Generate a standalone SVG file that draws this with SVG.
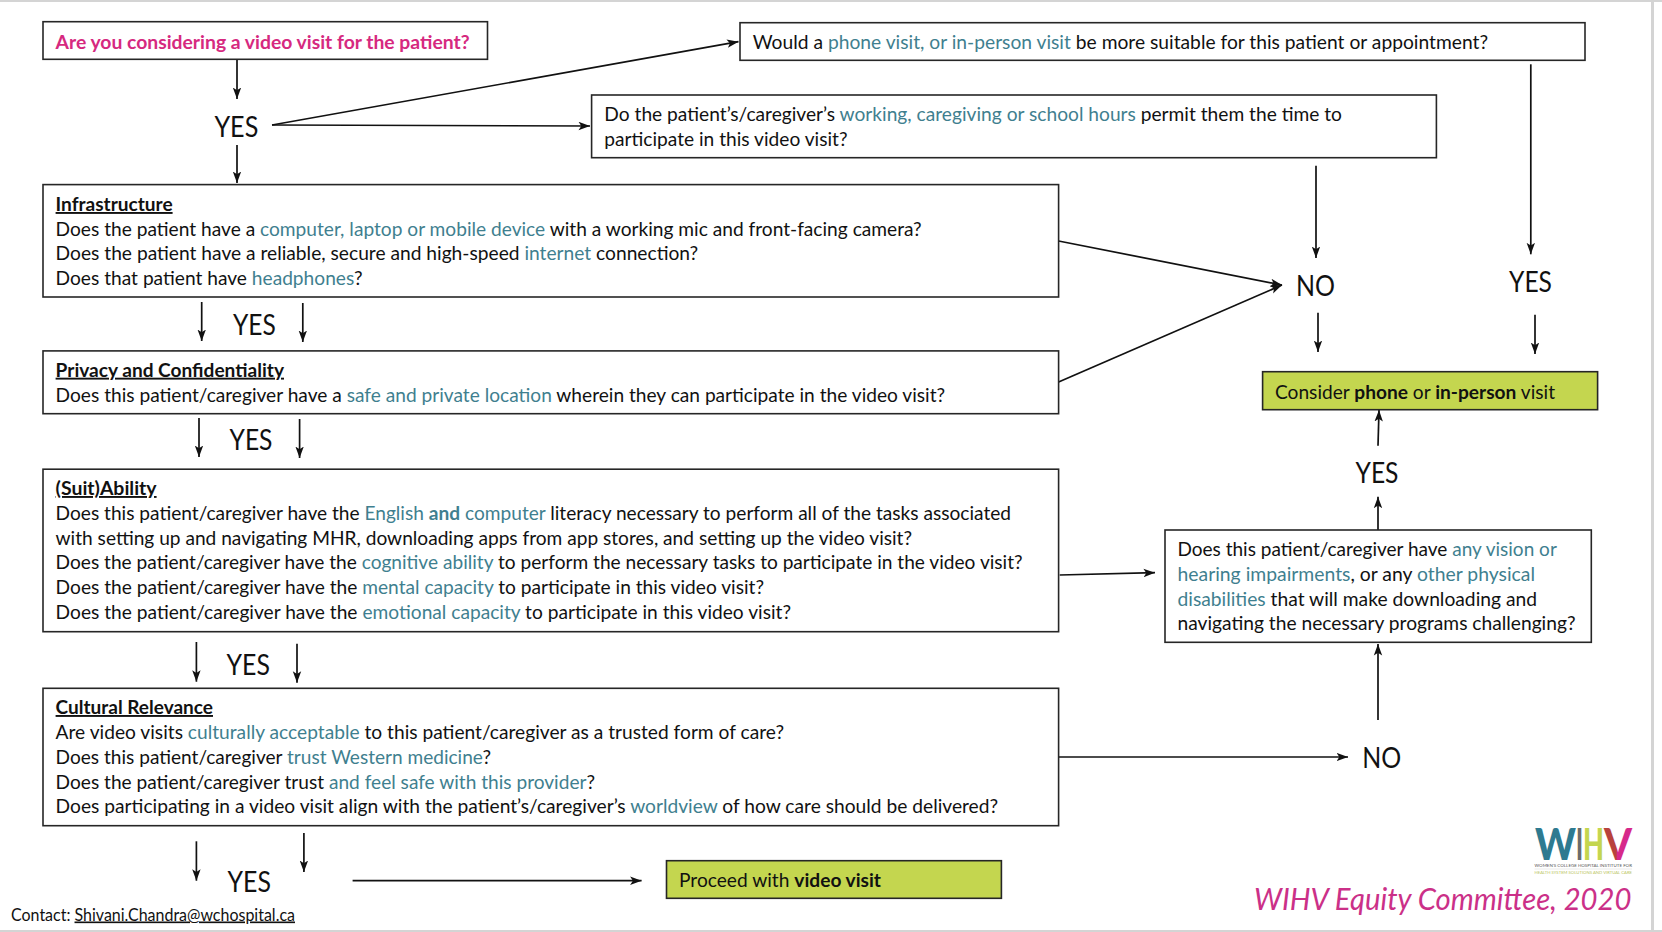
<svg xmlns="http://www.w3.org/2000/svg" width="1662" height="932" viewBox="0 0 1662 932">
<style>
text{font-family:"Lato","Open Sans","Liberation Sans",sans-serif;fill:#111}
.b{fill:#fff;stroke:#262626;stroke-width:1.6}
.g{fill:#c4d64f;stroke:#262626;stroke-width:1.6}
.t{font-size:19px}
.h{font-size:19px;font-weight:700;text-decoration:underline}
.k{fill:#3f7f8f}
.s{font-weight:700}
.l{font-size:28px}
.c{fill:none;stroke:#111;stroke-width:1.7;marker-end:url(#ah)}
.w{font-size:43px;font-weight:900}
</style>
<defs>
<marker id="ah" markerUnits="userSpaceOnUse" markerWidth="14" markerHeight="12" refX="11.5" refY="5" orient="auto"><path d="M0 0.8 L11.5 5 L0 9.2 L2.8 5 Z" fill="#111"/></marker>
<linearGradient id="vg" gradientUnits="userSpaceOnUse" x1="1604" y1="0" x2="1632" y2="0"><stop offset="0" stop-color="#b8423c"/><stop offset="0.44" stop-color="#b8423c"/><stop offset="0.46" stop-color="#d6298a"/><stop offset="1" stop-color="#d6298a"/></linearGradient>
</defs>
<rect id="page" x="0" y="0" width="1662" height="932" fill="#fff"/>
<g id="page-edge" fill="#d4d4d4"><rect x="0" y="0" width="1662" height="2"/><rect x="1651" y="0" width="3" height="932"/><rect x="0" y="930" width="1662" height="2"/></g>

<g id="connectors">
<path class="c" d="M237 60V99"/>
<path class="c" d="M237 145V183"/>
<path class="c" d="M272 125L738.5 41.7"/>
<path class="c" d="M272 125L590 126"/>
<path class="c" d="M201.7 302V341"/>
<path class="c" d="M302.8 303V342"/>
<path class="c" d="M199 418V457"/>
<path class="c" d="M299.6 419V458"/>
<path class="c" d="M196.4 642V681.7"/>
<path class="c" d="M297 643.7V682.7"/>
<path class="c" d="M196.4 841.3V880.7"/>
<path class="c" d="M303.9 833V872"/>
<path class="c" d="M352.6 880.7H641.6"/>
<path class="c" d="M1316 165.7V258"/>
<path class="c" d="M1530.8 64.3V254.3"/>
<path class="c" d="M1058.6 241L1282 285"/>
<path class="c" d="M1058.6 382L1282 285"/>
<path class="c" d="M1318 312.7V352"/>
<path class="c" d="M1535 314.7V354"/>
<path class="c" d="M1378 445.7L1379 410"/>
<path class="c" d="M1378 530V496.7"/>
<path class="c" d="M1378 720V644"/>
<path class="c" d="M1059.7 575L1155 572.7"/>
<path class="c" d="M1058.6 757H1348"/>
</g>

<g id="start"><rect class="b" x="43" y="21.7" width="444.5" height="37.6"/>
<text class="t s" x="55.6" y="48.5" textLength="414" lengthAdjust="spacingAndGlyphs" style="fill:#d6297f">Are you considering a video visit for the patient?</text></g>

<g id="alt-visit"><rect class="b" x="740" y="22.7" width="845" height="37.6"/>
<text class="t" x="752.8" y="49" textLength="735.2" lengthAdjust="spacingAndGlyphs">Would a <tspan class="k">phone visit, or in-person visit</tspan> be more suitable for this patient or appointment?</text></g>

<g id="hours"><rect class="b" x="591.6" y="95" width="844.8" height="62.7"/>
<text class="t" x="604.3" y="121" textLength="737.7" lengthAdjust="spacingAndGlyphs">Do the patient’s/caregiver’s <tspan class="k">working, caregiving or school hours</tspan> permit them the time to</text>
<text class="t" x="604.3" y="146" textLength="243.2" lengthAdjust="spacingAndGlyphs">participate in this video visit?</text></g>

<g id="infrastructure"><rect class="b" x="43" y="184.6" width="1015.6" height="112.4"/>
<text class="h" x="55.6" y="211" textLength="117" lengthAdjust="spacingAndGlyphs">Infrastructure</text>
<text class="t" x="55.6" y="236" textLength="866" lengthAdjust="spacingAndGlyphs">Does the patient have a <tspan class="k">computer, laptop or mobile device</tspan> with a working mic and front-facing camera?</text>
<text class="t" x="55.6" y="260" textLength="642.6" lengthAdjust="spacingAndGlyphs">Does the patient have a reliable, secure and high-speed <tspan class="k">internet</tspan> connection?</text>
<text class="t" x="55.6" y="285" textLength="307" lengthAdjust="spacingAndGlyphs">Does that patient have <tspan class="k">headphones</tspan>?</text></g>

<g id="privacy"><rect class="b" x="43" y="350.9" width="1015.6" height="62.8"/>
<text class="h" x="55.6" y="376.7" textLength="228.4" lengthAdjust="spacingAndGlyphs">Privacy and Confidentiality</text>
<text class="t" x="55.6" y="402" textLength="889.5" lengthAdjust="spacingAndGlyphs">Does this patient/caregiver have a <tspan class="k">safe and private location</tspan> wherein they can participate in the video visit?</text></g>

<g id="suitability"><rect class="b" x="43" y="469.2" width="1015.6" height="162.5"/>
<text class="h" x="55.6" y="495" textLength="101" lengthAdjust="spacingAndGlyphs">(Suit)Ability</text>
<text class="t" x="55.6" y="520" textLength="955.4" lengthAdjust="spacingAndGlyphs">Does this patient/caregiver have the <tspan class="k">English <tspan class="s">and</tspan> computer</tspan> literacy necessary to perform all of the tasks associated</text>
<text class="t" x="55.6" y="545" textLength="856.4" lengthAdjust="spacingAndGlyphs">with setting up and navigating MHR, downloading apps from app stores, and setting up the video visit?</text>
<text class="t" x="55.6" y="569" textLength="967" lengthAdjust="spacingAndGlyphs">Does the patient/caregiver have the <tspan class="k">cognitive ability</tspan> to perform the necessary tasks to participate in the video visit?</text>
<text class="t" x="55.6" y="594" textLength="708.4" lengthAdjust="spacingAndGlyphs">Does the patient/caregiver have the <tspan class="k">mental capacity</tspan> to participate in this video visit?</text>
<text class="t" x="55.6" y="619" textLength="735.4" lengthAdjust="spacingAndGlyphs">Does the patient/caregiver have the <tspan class="k">emotional capacity</tspan> to participate in this video visit?</text></g>

<g id="cultural"><rect class="b" x="43" y="688.3" width="1015.6" height="137.4"/>
<text class="h" x="55.6" y="714" textLength="157.4" lengthAdjust="spacingAndGlyphs">Cultural Relevance</text>
<text class="t" x="55.6" y="739" textLength="728.4" lengthAdjust="spacingAndGlyphs">Are video visits <tspan class="k">culturally acceptable</tspan> to this patient/caregiver as a trusted form of care?</text>
<text class="t" x="55.6" y="764" textLength="435.4" lengthAdjust="spacingAndGlyphs">Does this patient/caregiver <tspan class="k">trust Western medicine</tspan>?</text>
<text class="t" x="55.6" y="788.5" textLength="539.4" lengthAdjust="spacingAndGlyphs">Does the patient/caregiver trust <tspan class="k">and feel safe with this provider</tspan>?</text>
<text class="t" x="55.6" y="813" textLength="942.5" lengthAdjust="spacingAndGlyphs">Does participating in a video visit align with the patient’s/caregiver’s <tspan class="k">worldview</tspan> of how care should be delivered?</text></g>

<g id="proceed"><rect class="g" x="666.5" y="860.7" width="334.9" height="37.6"/>
<text class="t" x="679" y="886.7" textLength="202" lengthAdjust="spacingAndGlyphs">Proceed with <tspan class="s">video visit</tspan></text></g>

<g id="consider"><rect class="g" x="1262.6" y="371.7" width="335" height="38"/>
<text class="t" x="1275" y="398.5" textLength="280" lengthAdjust="spacingAndGlyphs">Consider <tspan class="s">phone</tspan> or <tspan class="s">in-person</tspan> visit</text></g>

<g id="impairments"><rect class="b" x="1165" y="530" width="426.3" height="112.3"/>
<text class="t" x="1177.5" y="556" textLength="379.3" lengthAdjust="spacingAndGlyphs">Does this patient/caregiver have <tspan class="k">any vision or</tspan></text>
<text class="t" x="1177.5" y="581" textLength="357.5" lengthAdjust="spacingAndGlyphs"><tspan class="k">hearing impairments</tspan>, or any <tspan class="k">other physical</tspan></text>
<text class="t" x="1177.5" y="605.7" textLength="359.5" lengthAdjust="spacingAndGlyphs"><tspan class="k">disabilities</tspan> that will make downloading and</text>
<text class="t" x="1177.5" y="630" textLength="398" lengthAdjust="spacingAndGlyphs">navigating the necessary programs challenging?</text></g>

<g id="yes-1"><text class="l" x="214.4" y="136.5" textLength="43.9" lengthAdjust="spacingAndGlyphs">YES</text></g>
<g id="yes-2"><text class="l" x="233" y="334.5" textLength="42.8" lengthAdjust="spacingAndGlyphs">YES</text></g>
<g id="yes-3"><text class="l" x="229.5" y="449.5" textLength="43" lengthAdjust="spacingAndGlyphs">YES</text></g>
<g id="yes-4"><text class="l" x="226.6" y="674.5" textLength="43.4" lengthAdjust="spacingAndGlyphs">YES</text></g>
<g id="yes-5"><text class="l" x="227.6" y="891.5" textLength="43.4" lengthAdjust="spacingAndGlyphs">YES</text></g>
<g id="yes-6"><text class="l" x="1509" y="291.7" textLength="43" lengthAdjust="spacingAndGlyphs">YES</text></g>
<g id="yes-7"><text class="l" x="1355.5" y="482.7" textLength="43" lengthAdjust="spacingAndGlyphs">YES</text></g>
<g id="no-1"><text class="l" x="1296" y="295.5" textLength="39" lengthAdjust="spacingAndGlyphs">NO</text></g>
<g id="no-2"><text class="l" x="1362.3" y="767.5" textLength="39" lengthAdjust="spacingAndGlyphs">NO</text></g>

<g id="contact"><text x="11" y="920.5" font-size="16.5" textLength="284" lengthAdjust="spacingAndGlyphs">Contact: <tspan text-decoration="underline">Shivani.Chandra@wchospital.ca</tspan></text></g>

<g id="credit"><text x="1254" y="910" font-size="31" font-style="italic" textLength="377.5" lengthAdjust="spacingAndGlyphs" style="fill:#cb3088">WIHV Equity Committee, 2020</text></g>

<g id="logo">
<text class="w" x="1535" y="860" textLength="41" lengthAdjust="spacingAndGlyphs" style="fill:#2e7a90">W</text>
<text class="w" x="1576" y="860" textLength="7" lengthAdjust="spacingAndGlyphs" style="fill:#6b6b6b">I</text>
<text class="w" x="1583" y="860" textLength="21" lengthAdjust="spacingAndGlyphs" style="fill:#c4d64f">H</text>
<text class="w" x="1604" y="860" textLength="28" lengthAdjust="spacingAndGlyphs" style="fill:url(#vg)">V</text>
<text x="1534.5" y="866.5" font-size="4.4" textLength="97.5" lengthAdjust="spacingAndGlyphs" style="fill:#555">WOMEN’S COLLEGE HOSPITAL INSTITUTE FOR</text>
<path d="M1534.5 869H1632" stroke="#ddd" stroke-width="0.6"/>
<text x="1534.5" y="874" font-size="4.4" textLength="97.5" lengthAdjust="spacingAndGlyphs" style="fill:#b9c45a">HEALTH SYSTEM SOLUTIONS AND VIRTUAL CARE</text>
</g>
</svg>
